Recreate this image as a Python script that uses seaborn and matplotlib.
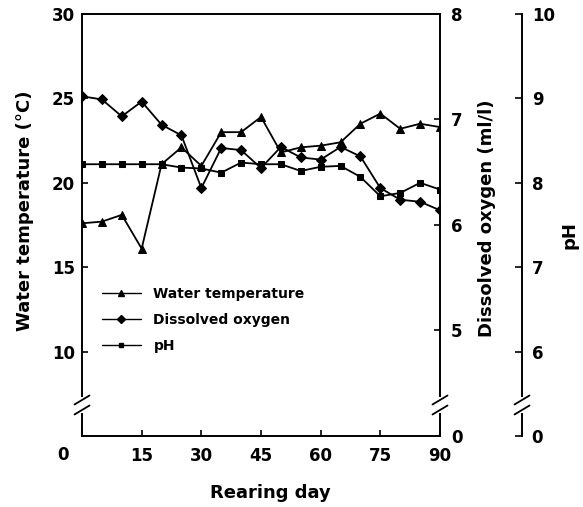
import matplotlib
matplotlib.use("Agg")
import matplotlib.pyplot as plt
import seaborn as sns
from matplotlib.lines import Line2D

# ---- data ----
days = [0, 5, 10, 15, 20, 25, 30, 35, 40, 45, 50, 55, 60, 65, 70, 75, 80, 85, 90]
water_temp = [17.6, 17.7, 18.1, 16.1, 21.1, 22.1, 21.0, 23.0, 23.0, 23.9,
              21.8, 22.1, 22.2, 22.4, 23.5, 24.1, 23.2, 23.5, 23.3]
dissolved_oxygen = [7.22, 7.19, 7.03, 7.17, 6.95, 6.85, 6.35, 6.73, 6.71, 6.54,
                    6.74, 6.64, 6.62, 6.74, 6.65, 6.35, 6.24, 6.22, 6.14]
ph = [8.22, 8.22, 8.22, 8.22, 8.22, 8.18, 8.17, 8.12, 8.24, 8.22,
      8.22, 8.14, 8.19, 8.20, 8.07, 7.84, 7.88, 8.00, 7.92]

x_ticks = [0, 15, 30, 45, 60, 75, 90]
x_ticklabels = ["", "15", "30", "45", "60", "75", "90"]
temp_ticks = [10, 15, 20, 25, 30]
do_ticks = [4, 5, 6, 7, 8]
do_ticklabels = ["0", "5", "6", "7", "8"]
ph_ticks = [5, 6, 7, 8, 9, 10]
ph_ticklabels = ["0", "6", "7", "8", "9", "10"]
series_names = ["Water temperature", "Dissolved oxygen", "pH"]

sns.set_style("ticks")
plt.rcParams["font.family"] = ["DejaVu Sans"]
plt.rcParams["font.weight"] = "bold"
plt.rcParams["text.color"] = "black"
plt.rcParams["axes.labelcolor"] = "black"

W, H = 583, 507
fig = plt.figure(figsize=(W / 100, H / 100), dpi=100)
L, R, T, B = 82, 440, 14, 436
ax = fig.add_axes([L / W, (H - B) / H, (R - L) / W, (B - T) / H])
ax2 = ax.twinx()
ax3 = ax.twinx()

lw = 1.3
sns.lineplot(x=days, y=water_temp, ax=ax, color="black", marker="^",
             markersize=6, markeredgecolor="black", linewidth=lw)
sns.lineplot(x=days, y=dissolved_oxygen, ax=ax2, color="black", marker="D",
             markersize=4.8, markeredgecolor="black", linewidth=lw)
sns.lineplot(x=days, y=ph, ax=ax3, color="black", marker="s",
             markersize=4.3, markeredgecolor="black", linewidth=lw)

spine_w = 1.4
# main axis
ax.set_xlim(0, 90)
ax.set_ylim(5, 30)
ax.set_xticks(x_ticks)
ax.set_xticklabels(x_ticklabels)
ax.set_yticks(temp_ticks)
ax.spines["right"].set_visible(False)
for s in ["left", "bottom", "top"]:
    ax.spines[s].set_linewidth(spine_w)
    ax.spines[s].set_color("black")
ax.tick_params(direction="in", length=4, width=1.2, labelsize=12, colors="black")
ax.tick_params(axis="x", pad=8)
ax.tick_params(axis="y", pad=5)

# dissolved oxygen axis
ax2.set_ylim(4, 8)
ax2.set_yticks(do_ticks)
ax2.set_yticklabels(do_ticklabels)
for s in ["left", "bottom", "top"]:
    ax2.spines[s].set_visible(False)
ax2.spines["right"].set_linewidth(spine_w)
ax2.spines["right"].set_color("black")
ax2.tick_params(direction="in", length=4, width=1.2, labelsize=12, pad=8, colors="black")

# pH axis
ax3.set_ylim(5, 10)
ax3.set_yticks(ph_ticks)
ax3.set_yticklabels(ph_ticklabels)
ax3.spines["right"].set_position(("axes", (522 - L) / (R - L)))
for s in ["left", "bottom", "top"]:
    ax3.spines[s].set_visible(False)
ax3.spines["right"].set_linewidth(spine_w)
ax3.spines["right"].set_color("black")
ax3.tick_params(direction="in", length=5, width=1.2, labelsize=12, pad=7, colors="black")

# labels
ax.set_xlabel("Rearing day", fontsize=13, fontweight="bold", color="black")
ax.xaxis.set_label_coords(0.525, -0.113)
ax.set_ylabel("Water temperature (°C)", fontsize=13, fontweight="bold", color="black")
ax.yaxis.set_label_coords((34 - L) / (R - L), (B - 211) / (B - T))
ax2.set_ylabel("Dissolved oxygen (ml/l)", fontsize=13, fontweight="bold", color="black")
ax2.yaxis.set_label_coords((478 - L) / (R - L), (B - 218) / (B - T))
ax3.set_ylabel("pH", fontsize=13, fontweight="bold", color="black")
ax3.yaxis.set_label_coords((560 - L) / (R - L), (B - 235) / (B - T))

fig.text(63 / W, 1 - 455 / H, "0", ha="center", va="center", fontsize=12,
         fontweight="bold", color="black")

# axis breaks
pw, ph_ = R - L, B - T
def axis_break(xa):
    yc = (B - 405) / ph_
    gap = 5 / ph_
    ax3.plot([xa, xa], [yc - 1.6 * gap, yc + 1.6 * gap], color="white", lw=4,
             transform=ax3.transAxes, clip_on=False, zorder=20, solid_capstyle="butt")
    dx, dy = 7.5 / pw, 4.5 / ph_
    for off in (-gap, gap):
        ax3.plot([xa - dx, xa + dx], [yc + off - dy, yc + off + dy], color="black",
                 lw=1.3, transform=ax3.transAxes, clip_on=False, zorder=21)

axis_break(0.0)
axis_break(1.0)
axis_break((522 - L) / (R - L))

# legend
handles = [
    Line2D([], [], color="black", marker="^", markersize=5, lw=1.0),
    Line2D([], [], color="black", marker="D", markersize=4, lw=1.0),
    Line2D([], [], color="black", marker="s", markersize=3.5, lw=1.0),
]
leg = ax3.legend(handles, series_names, loc="upper left",
                 bbox_to_anchor=((102 - L) / pw, (B - 287) / ph_), frameon=False,
                 prop={"size": 10, "weight": "bold"}, handlelength=2.8, handletextpad=0.9,
                 labelspacing=0.85, borderpad=0, borderaxespad=0)
for t in leg.get_texts():
    t.set_color("black")

fig.savefig("out.png", dpi=100)
